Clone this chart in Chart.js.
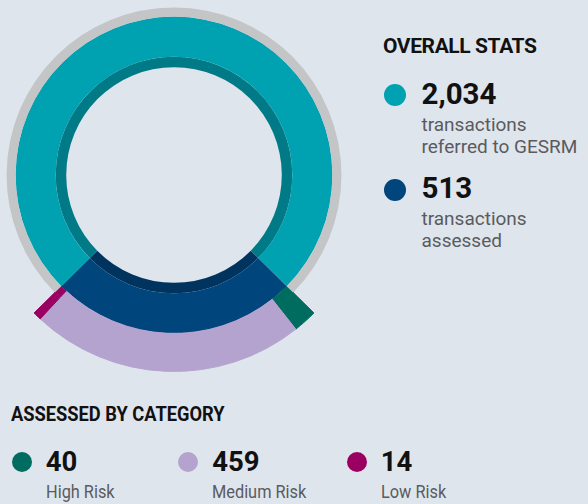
<!DOCTYPE html>
<html>
<head>
<meta charset="utf-8">
<script src="https://cdn.jsdelivr.net/npm/chart.js@4"></script>
<style>
  html, body { margin:0; padding:0; }
  body { width:588px; height:504px; background:#dfe5ed; position:relative; overflow:hidden; font-family:Roboto, "Noto Sans", sans-serif; }
  #ring { position:absolute; left:-23px; top:-22px; }
  .t { position:absolute; line-height:1; white-space:nowrap; transform-origin:0 0; }
  .head { font-weight:700; font-size:21px; color:#111; }
  .num { font-weight:700; color:#111; }
  .sub { color:#5a5b5d; }
  .dot { position:absolute; border-radius:50%; }
</style>
</head>
<body>
<canvas id="ring" width="394" height="394"></canvas>

<div class="t head" style="left:383px;top:35.6px;letter-spacing:-0.4px">OVERALL STATS</div>
<div class="dot" style="left:383.5px;top:84px;width:22px;height:22px;background:#00a1b0"></div>
<div class="t num" style="left:421.5px;top:80.2px;font-size:29.5px">2,034</div>
<div class="t sub" style="left:421.5px;top:115px;font-size:19px">transactions</div>
<div class="t sub" style="left:421.5px;top:136.7px;font-size:19px">referred to GESRM</div>
<div class="dot" style="left:383.5px;top:178.5px;width:22px;height:22px;background:#00457c"></div>
<div class="t num" style="left:421.5px;top:174.2px;font-size:29.5px">513</div>
<div class="t sub" style="left:421.5px;top:209px;font-size:19px">transactions</div>
<div class="t sub" style="left:421.5px;top:230.7px;font-size:19px">assessed</div>

<div class="t head" style="left:10.7px;top:404px;transform:scaleX(0.87)">ASSESSED BY CATEGORY</div>
<div id="legend"></div>

<script>
// overall numbers
const totalReferred = 2034;
const totalAssessed = 513;

// assessed split by category
const categories = ["High Risk", "Medium Risk", "Low Risk"];
const categoryValues = [40, 459, 14];
const categoryColors = ["#006b5f", "#b4a3cf", "#990061"];

const notAssessed = totalReferred - totalAssessed;
// put the assessed part at the bottom of the ring
const startAngle = 180 - (totalAssessed / totalReferred) * 180;

// bottom legend
const legendX = [10.7, 177.3, 345.7];
let legend = document.querySelector('#legend');
for (let i = 0; i < categories.length; i++) {
  legend.innerHTML += `
    <div class="dot" style="left:${legendX[i] + 1}px;top:451.7px;width:20px;height:20px;background:${categoryColors[i]}"></div>
    <div class="t num" style="left:${legendX[i] + 35}px;top:447.8px;font-size:27.5px">${categoryValues[i]}</div>
    <div class="t sub" style="left:${legendX[i] + 35}px;top:481.7px;font-size:19px;transform:scaleX(0.86)">${categories[i]}</div>`;
}

const ctx = document.getElementById('ring').getContext('2d');
new Chart(ctx, {
  type: 'doughnut',
  data: {
    datasets: [
      { // categories sticking out below
        data: [...categoryValues, notAssessed],
        backgroundColor: [...categoryColors, 'rgba(0,0,0,0)'],
        borderColor: [...categoryColors, 'rgba(0,0,0,0)'],
        borderWidth: [1, 1, 1, 0],
        weight: 29
      },
      { // thin grey rim
        data: [...categoryValues, notAssessed],
        backgroundColor: [...categoryColors, '#c3c5c7'],
        borderColor: [...categoryColors, '#c3c5c7'],
        borderWidth: [1, 1, 1, 0],
        weight: 9
      },
      { // referred vs assessed
        data: [totalAssessed, notAssessed],
        backgroundColor: ['#00457c', '#00a1b0'],
        borderWidth: 0,
        weight: 40
      },
      { // darker inner band
        data: [totalAssessed, notAssessed],
        backgroundColor: ['#00335e', '#007a86'],
        borderWidth: 0,
        weight: 10.5
      }
    ]
  },
  options: {
    responsive: false,
    animation: false,
    events: [],
    cutout: '54.85%',
    rotation: startAngle,
    plugins: { legend: { display: false }, tooltip: { enabled: false } }
  }
});
</script>
</body>
</html>
